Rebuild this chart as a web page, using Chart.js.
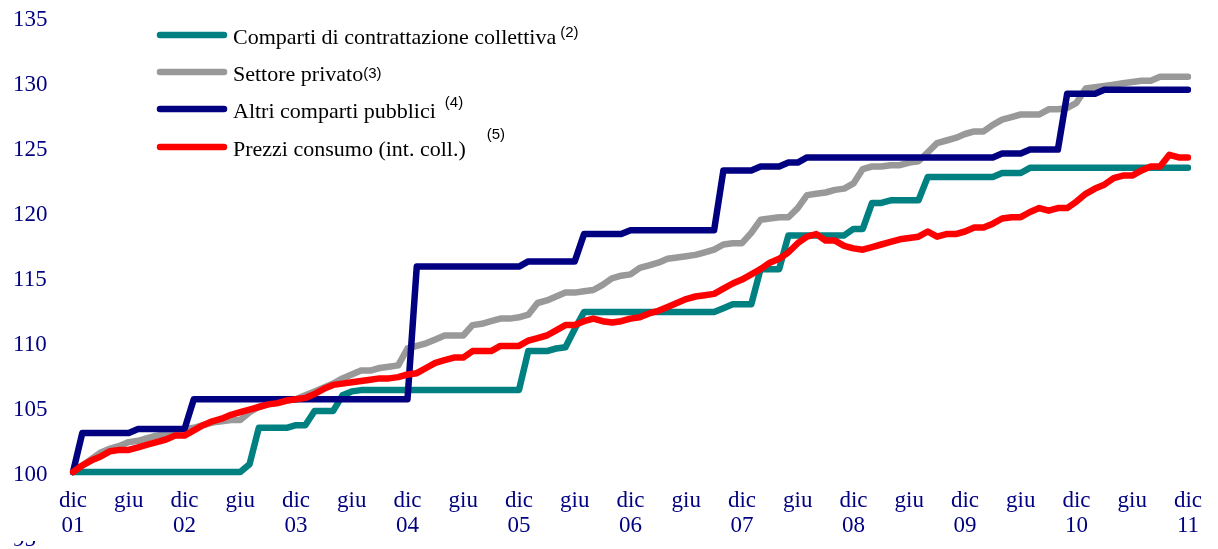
<!DOCTYPE html>
<html>
<head>
<meta charset="utf-8">
<script src="https://cdn.jsdelivr.net/npm/chart.js@4.4.0/dist/chart.umd.min.js"></script>
<style>
html,body{margin:0;padding:0;background:#ffffff;}
#wrap{width:1218px;height:549px;position:relative;}
</style>
</head>
<body>
<div id="wrap"><canvas id="c" width="1218" height="549"></canvas></div>
<script>
// ---- categories (monthly, dic 2001 - dic 2011) ----
const monthNames = ['dic','gen','feb','mar','apr','mag','giu','lug','ago','set','ott','nov'];
const startYear = 2001;
const categories = [];
for (let i = 0; i < 121; i++) {
  const m = monthNames[i % 12];
  const y = startYear + Math.floor((i + 11) / 12);
  categories.push(m + ' ' + String(y % 100).padStart(2, '0'));
}
const shownMonths = ['dic', 'giu'];
const yTicks = [95, 100, 105, 110, 115, 120, 125, 130, 135];

// ---- series (indices, dic 2001 = 100) ----
const comparti = [
  100,100,100,100,100,100,100,100,100,100,
  100,100,100,100,100,100,100,100,100,100.6,
  103.4,103.4,103.4,103.4,103.6,103.6,104.7,104.7,104.7,105.9,
  106.2,106.3,106.3,106.3,106.3,106.3,106.3,106.3,106.3,106.3,
  106.3,106.3,106.3,106.3,106.3,106.3,106.3,106.3,106.3,109.3,
  109.3,109.3,109.5,109.6,111.0,112.3,112.3,112.3,112.3,112.3,
  112.3,112.3,112.3,112.3,112.3,112.3,112.3,112.3,112.3,112.3,
  112.6,112.9,112.9,112.9,115.6,115.6,115.6,118.2,118.2,118.2,
  118.2,118.2,118.2,118.2,118.7,118.7,120.7,120.7,120.9,120.9,
  120.9,120.9,122.7,122.7,122.7,122.7,122.7,122.7,122.7,122.7,
  123.0,123.0,123.0,123.4,123.4,123.4,123.4,123.4,123.4,123.4,
  123.4,123.4,123.4,123.4,123.4,123.4,123.4,123.4,123.4,123.4,
  123.4
];
const privato = [
  100,100.5,101.0,101.5,101.8,102.0,102.3,102.4,102.6,102.8,
  102.9,103.2,103.3,103.4,103.6,103.8,103.9,104.0,104.0,104.6,
  105.0,105.2,105.3,105.5,105.6,105.9,106.2,106.5,106.8,107.2,
  107.5,107.8,107.8,108.0,108.1,108.2,109.5,109.7,109.9,110.2,
  110.5,110.5,110.5,111.3,111.4,111.6,111.8,111.8,111.9,112.1,
  113.0,113.2,113.5,113.8,113.8,113.9,114.0,114.4,114.9,115.1,
  115.2,115.7,115.9,116.1,116.4,116.5,116.6,116.7,116.9,117.1,
  117.5,117.6,117.6,118.4,119.4,119.5,119.6,119.6,120.3,121.3,
  121.4,121.5,121.7,121.8,122.2,123.3,123.5,123.5,123.6,123.6,
  123.8,123.9,124.6,125.3,125.5,125.7,126.0,126.2,126.2,126.7,
  127.1,127.3,127.5,127.5,127.5,127.9,127.9,128.0,128.4,129.5,
  129.6,129.7,129.8,129.9,130.0,130.1,130.1,130.4,130.4,130.4,
  130.4
];
const altri = [
  100,103.0,103.0,103.0,103.0,103.0,103.0,103.3,103.3,103.3,
  103.3,103.3,103.3,105.6,105.6,105.6,105.6,105.6,105.6,105.6,
  105.6,105.6,105.6,105.6,105.6,105.6,105.6,105.6,105.6,105.6,
  105.6,105.6,105.6,105.6,105.6,105.6,105.6,115.8,115.8,115.8,
  115.8,115.8,115.8,115.8,115.8,115.8,115.8,115.8,115.8,116.2,
  116.2,116.2,116.2,116.2,116.2,118.3,118.3,118.3,118.3,118.3,
  118.6,118.6,118.6,118.6,118.6,118.6,118.6,118.6,118.6,118.6,
  123.2,123.2,123.2,123.2,123.5,123.5,123.5,123.8,123.8,124.2,
  124.2,124.2,124.2,124.2,124.2,124.2,124.2,124.2,124.2,124.2,
  124.2,124.2,124.2,124.2,124.2,124.2,124.2,124.2,124.2,124.2,
  124.5,124.5,124.5,124.8,124.8,124.8,124.8,129.1,129.1,129.1,
  129.1,129.4,129.4,129.4,129.4,129.4,129.4,129.4,129.4,129.4,
  129.4
];
const prezzi = [
  100.0,100.5,100.9,101.2,101.6,101.7,101.7,101.9,102.1,102.3,
  102.5,102.8,102.8,103.2,103.6,103.9,104.1,104.4,104.6,104.8,
  105.0,105.2,105.3,105.5,105.6,105.7,106.0,106.4,106.7,106.8,
  106.9,107.0,107.1,107.2,107.2,107.3,107.5,107.6,108.0,108.4,
  108.6,108.8,108.8,109.3,109.3,109.3,109.7,109.7,109.7,110.1,
  110.3,110.5,110.9,111.3,111.3,111.6,111.8,111.6,111.5,111.6,
  111.8,111.9,112.2,112.4,112.7,113.0,113.3,113.5,113.6,113.7,
  114.1,114.5,114.8,115.2,115.6,116.1,116.4,116.9,117.6,118.1,
  118.3,117.8,117.8,117.4,117.2,117.1,117.3,117.5,117.7,117.9,
  118.0,118.1,118.5,118.1,118.3,118.3,118.5,118.8,118.8,119.1,
  119.5,119.6,119.6,120.0,120.3,120.1,120.3,120.3,120.8,121.4,
  121.8,122.1,122.6,122.8,122.8,123.2,123.5,123.5,124.4,124.2,
  124.2
];

const seriesLabels = ['Comparti di contrattazione collettiva', 'Settore privato', 'Altri comparti pubblici', 'Prezzi consumo (int. coll.)'];
const seriesNotes = ['(2)', '(3)', '(4)', '(5)'];
const seriesColors = ['#008080', '#999999', '#000080', '#ff0000'];

const AXIS_COLOR = '#000080';
const SERIF = '"Liberation Serif", "Times New Roman", serif';

const legendPlugin = {
  id: 'customLegend',
  afterDraw(chart) {
    const ctx = chart.ctx;
    ctx.save();
    // partially hidden lowest y label (as in the original)
    const y95 = chart.scales.y.getPixelForValue(95);
    ctx.fillStyle = '#ffffff';
    ctx.fillRect(0, y95 - 14, 56, 18);

    const rowY = [35, 72, 109, 147];
    const noteGap = [4, 0, 9, 21];
    const noteDy = [2, 6, -2, -8];
    chart.data.datasets.forEach((ds, k) => {
      const y = rowY[k];
      ctx.strokeStyle = ds.borderColor;
      ctx.lineWidth = 6.5;
      ctx.lineCap = 'round';
      ctx.beginPath();
      ctx.moveTo(160, y);
      ctx.lineTo(224, y);
      ctx.stroke();
      ctx.fillStyle = '#000000';
      ctx.textAlign = 'left';
      ctx.textBaseline = 'alphabetic';
      ctx.font = '22px ' + SERIF;
      ctx.fillText(ds.label, 233, y + 9);
      const w = ctx.measureText(ds.label).width;
      ctx.font = '15px "Liberation Sans", Arial, sans-serif';
      ctx.fillText(seriesNotes[k], 233 + w + noteGap[k], y + noteDy[k]);
    });
    ctx.restore();
  }
};

const seriesData = [comparti, privato, altri, prezzi];
const drawOrder = [2, 3, 1, 0];

new Chart(document.getElementById('c').getContext('2d'), {
  type: 'line',
  data: {
    labels: categories,
    datasets: seriesData.map((d, k) => ({
      label: seriesLabels[k],
      data: d,
      borderColor: seriesColors[k],
      backgroundColor: seriesColors[k],
      order: drawOrder[k],
      fill: false
    }))
  },
  options: {
    responsive: false,
    animation: false,
    layout: { padding: { left: 13, right: 21, top: 17, bottom: 12 } },
    elements: {
      point: { radius: 0, hoverRadius: 0 },
      line: { borderWidth: 6.5, tension: 0, borderCapStyle: 'round', borderJoinStyle: 'round' }
    },
    plugins: { legend: { display: false }, tooltip: { enabled: false } },
    scales: {
      x: {
        type: 'category',
        position: { y: 100 },
        offset: false,
        grid: { display: false, drawTicks: false },
        border: { display: false },
        ticks: {
          autoSkip: false,
          maxRotation: 0,
          minRotation: 0,
          padding: 16,
          color: AXIS_COLOR,
          font: { family: SERIF, size: 23, lineHeight: 1.087 },
          callback: function (value) {
            const lab = this.getLabelForValue(value);
            const parts = lab.split(' ');
            if (parts[0] === shownMonths[0]) return [parts[0], parts[1]];
            if (parts[0] === shownMonths[1]) return parts[0];
            return '';
          }
        }
      },
      y: {
        min: yTicks[0],
        max: yTicks[yTicks.length - 1],
        grid: { display: false, drawTicks: false },
        border: { display: false },
        afterFit: (s) => { s.width = 60; },
        afterBuildTicks: (s) => { s.ticks = yTicks.map(v => ({ value: v })); },
        ticks: {
          padding: 0,
          crossAlign: 'far',
          labelOffset: 3,
          color: AXIS_COLOR,
          font: { family: SERIF, size: 23, lineHeight: 1.0 }
        }
      }
    }
  },
  plugins: [legendPlugin]
});
</script>
</body>
</html>
